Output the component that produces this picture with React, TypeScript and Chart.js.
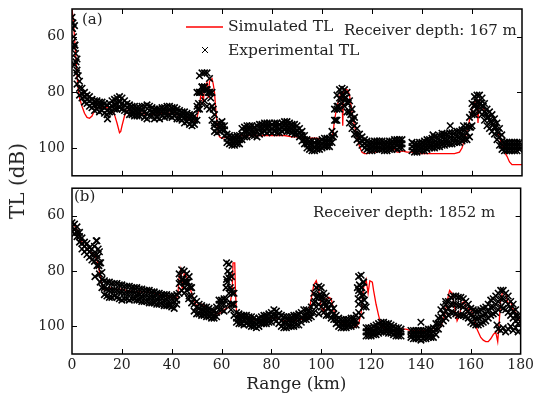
import { useEffect, useRef } from "react";
import { Chart, registerables } from "chart.js";

Chart.register(...registerables);

const FONT = "'DejaVu Serif', serif";

// ---------- axes ----------
const xTickValues = [0, 20, 40, 60, 80, 100, 120, 140, 160, 180];
const yTickValues = [60, 80, 100];

// ---------- sample ranges (km) for experimental TL ----------
const rangeKm = [
  0, 1, 2, 3, 4, 5, 6, 7, 8, 9, 10, 11, 12, 13, 14, 15, 16, 17, 18, 19,
  20, 21, 22, 23, 24, 25, 26, 27, 28, 29, 30, 31, 32, 33, 34, 35, 36, 37, 38, 39,
  40, 41, 42, 43, 44, 45, 46, 47, 48, 49, 50, 51, 52, 53, 54, 55, 56, 57, 58, 59,
  60, 61, 62, 63, 64, 65, 66, 67, 68, 69, 70, 71, 72, 73, 74, 75, 76, 77, 78, 79,
  80, 81, 82, 83, 84, 85, 86, 87, 88, 89, 90, 91, 92, 93, 94, 95, 96, 97, 98, 99,
  100, 101, 102, 103, 104, 105, 106, 107, 108, 109, 110, 111, 112, 113, 114, 115, 116, 117, 118, 119,
  120, 121, 122, 123, 124, 125, 126, 127, 128, 129, 130, 131, 132, 133, 134, 135, 136, 137, 138, 139,
  140, 141, 142, 143, 144, 145, 146, 147, 148, 149, 150, 151, 152, 153, 154, 155, 156, 157, 158, 159,
  160, 161, 162, 163, 164, 165, 166, 167, 168, 169, 170, 171, 172, 173, 174, 175, 176, 177, 178, 179,
  180,
];

// ---------- panel (a): receiver depth 167 m ----------
const expTopUpper = [
  53, 56, 68, 76, 78.5, 80, 81, 81.5, 82.5, 83,
  83, 83.5, 83.5, 84, 84.5, 84, 83, 82.5, 82, 81.5,
  82, 83, 84, 84.5, 85, 85, 85.5, 85.5, 85, 85,
  84.5, 85, 85.5, 86, 86, 86, 85.5, 85.5, 85, 85,
  85.5, 85.5, 86, 86.5, 87, 87, 87.5, 88, 88, 88.5,
  80, 74, 73, 73, 73, 75, 80, 88, 91.5, 91,
  90.5, 92, 95, 95.5, 96, 96, 95.5, 95.5, 93, 92.5,
  92, 92, 92, 92.5, 92, 91.5, 91.5, 91, 91, 91,
  91.5, 91, 91, 91.5, 91, 90.5, 90.5, 91, 91.5, 91.5,
  92, 93, 94, 95.5, 97, 97.5, 97.5, 98, 97.5, 97.5,
  97, 96.5, 96.5, 96.5, 94, 86, 81, 79, 78.5, 79,
  80, 83, 86, 89, 93, 95, 96, 97, 97.5, 98,
  98, 97.5, 97.5, 97.5, 97.5, 98, 98, 97.5, 97.5, 97,
  97, 97, 97, null, null, null, 98, 98.5, 98.5, 98,
  98, 97.5, 97, 97, 96.5, 96, 96, 95.5, 95.5, 95,
  95, 94.5, 94.5, 94.5, 94, 94, 93.5, 93.5, 92, 89,
  84, 81.5, 81, 81, 82, 84, 86, 87, 88, 89.5,
  91, 93, 97.5, 98, 98, 98, 98, 98, 98, 98,
  null,
];

const expTopMiddle = [
  57, 63, 72, 78.5, 80.5, 81.5, 82.5, 83, 84, 84.5,
  84.5, 85, 85, 85.5, 86.5, 85.5, 85, 84.5, 84, 83.5,
  84, 84.5, 85.5, 86, 86.5, 86.5, 87, 87, 86.5, 87,
  87.5, 86.5, 87, 87.5, 87.5, 87.5, 87, 87, 87, 86.5,
  87, 87, 87.5, 88, 88.5, 89, 89, 89.5, 90, 90,
  85, 80, 78, 78, 79, 80, 85, 91, 93, 92.5,
  92, 93.5, 96.5, 97, 97.5, 97.5, 97, 97, 95, 94,
  94, 93.5, 93.5, 94, 94, 93, 93, 92.5, 92.5, 92.5,
  93, 92.5, 92.5, 93, 92.5, 92, 92, 92.5, 93, 93,
  93.5, 94.5, 95.5, 97, 98.5, 99, 99, 99.5, 99, 99,
  98.5, 98, 98, 98, 96, 90, 85, 82, 81, 82,
  83.5, 87, 89.5, 92, 95, 96.5, 97.5, 98.5, 99, 99.5,
  99.5, 99, 99, 99, 99, 99.5, 99.5, 99, 99, 98.5,
  98.5, 98.5, 98.5, null, null, null, 99.5, 100, 100, 99.5,
  99.5, 99, 99, 98.5, 98.5, 98, 98, 97.5, 97.5, 97,
  97, 96.5, 96.5, 96.5, 96, 96, 95.5, 95.5, 94.5, 92.5,
  88, 84.5, 83.5, 84, 85, 87, 89, 90, 91, 92.5,
  94, 96, 99, 99.5, 99.5, 99.5, 99.5, 99.5, 99.5, 99.5,
  null,
];

const expTopLower = [
  62, 70, 77, 81, 82, 83.5, 84, 85, 85.5, 86.5,
  86, 87, 86.5, 87.5, 88, 87, 87, 86, 86, 85.5,
  86, 86.5, 87, 88, 88, 88.5, 88.5, 88.5, 88, 89,
  89.5, 88.5, 88.5, 89.5, 89, 89.5, 88.5, 89, 88.5, 88.5,
  89, 88.5, 89.5, 89.5, 90, 91, 90.5, 91.5, 92, 91.5,
  90, 86, 84, 83, 85, 86, 90, 94, 94.5, 94,
  93.5, 95.5, 98, 98.5, 99, 99, 98.5, 98.5, 97, 96,
  96, 95, 95.5, 95.5, 96, 95, 94.5, 94, 94.5, 94,
  94.5, 94, 94.5, 94.5, 94, 93.5, 94, 94, 94.5, 95,
  95, 96, 97.5, 98.5, 100, 100.5, 101, 101, 100.5, 100.5,
  100, 99.5, 99.5, 99.5, 98, 95, 90, 86, 84, 85,
  87, 91, 93, 95, 97, 98, 99, 100, 100.5, 101,
  101, 100.5, 100.5, 100.5, 100.5, 101, 101, 100.5, 100.5, 100,
  100.5, 100, 100, null, null, null, 101, 101.5, 101.5, 101,
  101, 101, 100.5, 100, 100, 100, 99.5, 99.5, 99, 99,
  98.5, 98.5, 98.5, 98, 98, 98, 97.5, 97, 97, 96,
  92, 88, 86, 87, 88, 90, 92, 93, 94, 95,
  97, 99, 100.5, 101, 101, 101, 101, 101, 101, 100.5,
  null,
];

const expTopExtraRange = [
  0.2, 0.4, 0.6, 0.8, 1.2, 1.4, 1.6, 1.8, 2.5, 14.2,
  50.3, 50.6, 51, 51.5, 52, 52.5, 53, 53.5, 54, 54.5, 55, 55.5, 56, 56.5, 56.8,
  104.5, 105.5, 106, 106.5, 107.5, 108.5, 109.5, 110.5, 111, 111.5, 112.5,
  144.4, 148, 151.3, 156.6,
  159.5, 160.5, 161, 161.5, 162.5, 163.5, 164.5, 165.5, 166.5, 167.5, 168.5, 169.5, 170.5, 171.9,
];
const expTopExtraTL = [
  57, 55, 60, 64, 63, 66, 69, 73, 74, 89.5,
  86, 84, 80, 80, 78, 79, 78, 79, 79, 80, 80, 82, 85, 86, 92,
  96, 90, 86, 85, 82.5, 81, 82, 84, 87, 88, 90,
  95.3, 94.7, 92, 92,
  92.5, 87, 85, 84.5, 83.5, 84, 85, 87.5, 89, 90.5, 91.5, 92.5, 94.5, 95.3,
];

const simTopRange = [
  0, 0.5, 1, 1.5, 2, 2.5, 3, 4, 5, 6,
  7, 8, 9, 10, 12, 14, 15, 16, 17, 18,
  19, 19.5, 20, 21, 22, 23, 25, 28, 30, 33,
  35, 38, 40, 42, 44, 46, 48, 49, 50, 51,
  51.5, 52, 52.5, 53, 54, 54.5, 55, 56, 56.5, 57,
  57.5, 58, 58.5, 59, 60, 62, 65, 68, 70, 75,
  80, 85, 88, 90, 92, 95, 98, 100, 102, 103,
  104, 104.5, 105, 106, 107, 107.5, 108, 108.3, 108.6, 109,
  110, 110.5, 111, 112, 113, 114, 115, 116, 117, 118,
  120, 122, 124, 126, 128, 129, 130, 131, 132, 134,
  136, 140, 145, 150, 153, 155, 156, 157, 158, 159,
  160, 161, 162, 162.4, 162.8, 163.5, 165, 166, 168, 170,
  171, 172, 173, 174, 175, 176, 178, 180,
];
const simTopTL = [
  50, 54, 60, 67, 74, 79, 82, 85, 87.5, 89,
  89.3, 88.5, 86.5, 85.5, 85.5, 85.5, 86, 86.5, 88, 91,
  94.5, 94, 92, 88.5, 86.5, 86.5, 87.5, 87.5, 88, 88,
  87.5, 87.5, 87.5, 88, 88.5, 89.5, 90.5, 90.5, 89, 85,
  81, 79, 84, 78, 76.5, 82, 76, 75, 77, 80,
  86, 91, 94.5, 96, 96.5, 96, 96, 95.5, 95.5, 95.5,
  95.5, 95.5, 96, 96, 96.5, 96.5, 96.5, 97, 97, 97,
  96, 94, 90, 85, 82, 80, 80, 92, 80, 79,
  79, 79.5, 81, 87, 92, 96, 99.5, 101.5, 102, 102,
  101.5, 101.5, 100.5, 100, 99.5, 100.5, 101.5, 101.5, 101, 101.5,
  101.5, 102, 102, 102, 102, 101.5, 100, 97, 94, 90,
  86, 83.5, 83, 91, 83, 84, 86.5, 88, 91, 94,
  96, 99, 101.5, 103, 105, 106, 106, 106,
];

// ---------- panel (b): receiver depth 1852 m ----------
const expBotUpper = [
  62.5, 63, 64, 66, 68, 69.5, 70, 71.5, 72, 71,
  69, 73, 80.5, 83.5, 84, 84, 84.5, 84.5, 84.5, 85,
  85, 85.5, 85.5, 85.5, 86, 86, 86, 86.5, 86.5, 87,
  87, 87, 87.5, 87.5, 88, 88, 88.5, 88.5, 88.5, 89,
  89, 89, 88.5, 81, 79.5, 80, 81, 82, 86, 90,
  91, 92, 92.5, 93, 93, 93.5, 94, 94.5, 93, 90.5,
  90.5, 90, 77, 77.5, 82, 88, 95, 95.5, 96, 96,
  96, 96.5, 96.5, 97, 97.5, 97, 96.5, 96, 96, 95.5,
  95, 94, 94.5, 95.5, 96, 96.5, 96.5, 96.5, 96.5, 96,
  96, 95.5, 95, 94, 94, 94.5, 93, 88, 86, 85.5,
  86, 88, 89, 91, 92, 93.5, 96, 97, 97.5, 97.5,
  97.5, 97.5, 97, 97, 96, 82, 81.5, 84, 100.5, 100.5,
  100.5, 100, 99.5, 99, 98.5, 98.5, 99, 99, 99.5, 100,
  100.5, 100.5, 101, null, null, null, 101.5, 101.5, 101.5, 101.5,
  101.5, 101.5, 101.5, 101, 101, 100.5, 99, 97, 94, 93,
  92, 91, 89.5, 89, 89, 89.5, 89.5, 90, 91, 92,
  93.5, 94, 94.5, 94.5, 94, 93.5, 93, 92, 90.5, 90,
  89, 88, 87, 87, 88, 89, 91, 92, 94, 96,
  null,
];

const expBotMiddle = [
  64, 65, 66, 67.5, 70, 71, 72, 73, 74, 74,
  74, 77, 83, 86, 86.5, 87, 87, 87, 87, 87.5,
  87.5, 88, 88, 88, 88, 88, 88.5, 88.5, 89, 89,
  89, 89.5, 89.5, 89.5, 90, 90, 90, 90.5, 90.5, 91,
  91, 91, 90.5, 84.5, 83, 84, 84, 85.5, 89, 92,
  93, 93.5, 94, 94.5, 95, 95, 95.5, 96, 95, 92,
  92, 92, 83, 82.5, 87, 92, 97, 97, 97.5, 97.5,
  97.5, 98, 98, 98.5, 99, 98.5, 98, 97.5, 97.5, 97,
  96.5, 96, 96, 97, 98, 98.5, 98.5, 98, 98, 98,
  97.5, 97.5, 97, 96, 96, 96, 95, 91.5, 89.5, 89,
  89.5, 91.5, 92.5, 93.5, 94.5, 95.5, 97.5, 98.5, 99, 99,
  99, 99, 98.5, 98, 98, 87, 86, 88.5, 102, 102,
  102, 101.5, 101, 101, 100, 100, 100.5, 101, 101, 101.5,
  102, 102, 102, null, null, null, 103, 103, 103, 103,
  103, 103, 103, 102.5, 102.5, 102, 101, 99, 96.5, 95.5,
  94.5, 93.5, 92, 92, 92, 92.5, 92.5, 93, 94, 94.5,
  96, 96.5, 97, 97, 96.5, 96, 95.5, 94.5, 93, 93,
  92, 91, 90, 90, 91, 92, 93.5, 94.5, 96, 97.5,
  null,
];

const expBotLower = [
  65.5, 66.5, 67.5, 69.5, 72, 73, 74, 75, 76, 76.5,
  78, 81, 86, 88.5, 89, 89.5, 89.5, 89, 89.5, 90,
  90.5, 90, 90, 90.5, 90, 90, 90.5, 90.5, 91, 91,
  91, 91.5, 91.5, 91.5, 92, 92, 92, 92.5, 92.5, 92.5,
  93, 93.5, 92, 88, 87, 88, 87, 89, 91.5, 94.5,
  95.5, 95.5, 96, 96, 96.5, 96.5, 97, 97, 96.5, 94,
  94, 94.5, 90, 88, 92, 96, 98.5, 99, 99, 99.5,
  99, 99.5, 100, 100, 100.5, 100, 99, 99, 99, 98.5,
  98.5, 97.5, 98, 99, 100, 100.5, 100.5, 100, 100, 100,
  99.5, 99.5, 98.5, 97.5, 97.5, 97, 96.5, 95, 93, 92,
  93, 95, 96, 96, 97, 97.5, 99, 100, 100.5, 100.5,
  100.5, 100, 100, 99.5, 99.5, 92, 91, 93, 103.5, 103.5,
  103.5, 103, 103, 102.5, 102, 102, 102, 102.5, 102.5, 103,
  103.5, 103.5, 103.5, null, null, null, 104, 104.5, 104.5, 104.5,
  105, 104.5, 104.5, 104, 104, 104, 103, 101, 99, 98,
  97, 96, 95, 95, 95.5, 96, 96, 96, 96.5, 97,
  98.5, 99, 99.5, 99.5, 99, 98.5, 98, 97, 96, 95.5,
  95, 94, 93, 93.5, 94, 95, 96, 97, 98, 99,
  null,
];

const expBotExtraRange = [
  9.2, 9.7, 10.3, 10.5, 10.8, 11.3, 11.5,
  43.5, 44.5, 45.2, 45.5, 46.5, 46.8, 47.5,
  61.8, 62.3, 62.5, 62.8, 63.3, 63.5, 63.8, 64.3, 64.5,
  97.5, 98.5, 99, 99.5, 100.5, 101.5, 102.5,
  114.5, 114.8, 115, 115.3, 115.5, 116, 116.3, 116.5, 116.8, 117.3, 117.5, 118,
  140, 149.9,
  170.5, 171, 172, 173, 174, 175, 176, 177, 178, 179,
];
const expBotExtraTL = [
  82, 69, 75, 72, 78, 84, 77,
  84, 83, 86, 84, 84, 90, 86,
  86, 84, 80, 92, 81, 86, 94, 88, 92,
  91, 89, 95.5, 88.5, 89.5, 91.5, 93.5,
  86, 90, 95, 85, 88, 96, 86, 89, 84, 90.5, 92.5, 93,
  98.5, 91,
  99.5, 101, 101.5, 100.5, 102, 101, 100, 101.5, 100.5, 102,
];

const simBotRange = [
  0, 1, 2, 3, 4, 5, 6, 7, 8, 9,
  10, 11, 12, 13, 14, 15, 17, 20, 22, 25,
  28, 30, 33, 35, 38, 40, 42, 42.5, 43, 43.6,
  44.3, 45, 46, 47, 48, 49, 50, 51, 52, 55,
  57, 58, 60, 61, 62, 63, 63.8, 64.3, 64.6, 65.3,
  65.6, 66, 67, 70, 72, 75, 78, 80, 82, 85,
  88, 90, 92, 94, 95, 96, 97, 98, 99, 100,
  101, 102, 103, 104, 105, 106, 107, 110, 112, 113,
  114, 115, 116, 117, 118, 118.8, 119.5, 120.5, 121, 122,
  123, 124, 125, 127, 130, 131, 132, 134, 136, 140,
  145, 147, 148, 149.5, 150.5, 151.5, 152.5, 153.5, 154.5, 155.5,
  156.5, 157.5, 158.5, 159.5, 160.5, 161.5, 162, 163, 164, 165,
  166, 167, 168, 169, 170, 170.8, 171.3, 172, 173, 174,
  175, 176, 177, 178, 179, 180,
];
const simBotTL = [
  62.3, 63.5, 65, 67, 69.5, 71, 72, 73, 73.5, 74,
  76, 80, 85, 87, 86.5, 86, 86.5, 86.5, 87, 87.5,
  87.5, 87.5, 88, 88.5, 89, 89.5, 90, 88, 82, 79.5,
  87, 81, 82, 85, 88, 91, 92.5, 92, 92, 93.5,
  95, 95.5, 95, 94, 93.5, 93, 90, 86, 77, 77,
  88, 95, 96.5, 97, 97.5, 98, 97.5, 97, 97, 98,
  98, 98, 97.5, 96, 95, 90, 85, 83.5, 87, 93,
  95, 90, 89.5, 90, 94, 97.5, 98.5, 99, 99.5, 100.5,
  100, 99, 95, 86, 83, 88, 83.5, 84, 87, 92,
  96, 99.5, 100.5, 101.5, 102, 103, 101, 101, 101.5, 101.5,
  101.5, 101, 100, 96, 91, 87, 88, 93, 98, 96,
  91.5, 91, 95, 93, 95, 97, 100, 102, 104, 105,
  105.5, 105.5, 104.5, 103, 102, 105.5, 100, 90, 87, 88,
  92, 91, 94, 95, 97, 99,
];

// ---------- helpers ----------
const toXY = (xs: number[], ys: (number | null)[]) =>
  xs.map((x, i) => ({ x, y: ys[i] }));

const expStyle = {
  showLine: false,
  pointStyle: "crossRot" as const,
  pointRadius: 4.6,
  pointBorderWidth: 1.6,
  pointBorderColor: "#000",
  pointBackgroundColor: "#000",
  borderColor: "#000",
};

const simStyle = {
  showLine: true,
  pointRadius: 0,
  borderColor: "#ff0000",
  borderWidth: 1.3,
  tension: 0,
};

const panelPlugin = {
  id: "panel",
  afterDatasetsDraw(chart: any, _args: any, opts: any) {
    const { ctx, chartArea } = chart;
    const { left, top, right, bottom } = chartArea;
    const xs = chart.scales.x;
    const ys = chart.scales.y;
    ctx.save();
    ctx.strokeStyle = "#000";
    ctx.lineWidth = 1;
    ctx.beginPath();
    for (const v of xTickValues) {
      const px = Math.round(xs.getPixelForValue(v)) + 0.5;
      if (px < left + 2 || px > right - 2) continue;
      ctx.moveTo(px, bottom);
      ctx.lineTo(px, bottom - 5);
      ctx.moveTo(px, top);
      ctx.lineTo(px, top + 5);
    }
    for (const v of yTickValues) {
      const py = Math.round(ys.getPixelForValue(v)) + 0.5;
      ctx.moveTo(left, py);
      ctx.lineTo(left + 5, py);
      ctx.moveTo(right, py);
      ctx.lineTo(right - 5, py);
    }
    ctx.stroke();
    ctx.lineWidth = 1.5;
    ctx.strokeRect(left, top, right - left, bottom - top);

    ctx.fillStyle = "#222";
    ctx.textAlign = "left";
    ctx.textBaseline = "alphabetic";
    ctx.font = `15px ${FONT}`;
    ctx.fillText(opts.label, opts.labelX, opts.labelY);
    ctx.fillText(opts.depth, opts.depthX, opts.depthY);

    if (opts.legend) {
      ctx.strokeStyle = "#ff0000";
      ctx.lineWidth = 1.3;
      ctx.beginPath();
      ctx.moveTo(186, 27);
      ctx.lineTo(223, 27);
      ctx.stroke();
      ctx.strokeStyle = "#000";
      ctx.lineWidth = 1;
      ctx.beginPath();
      ctx.moveTo(202, 47);
      ctx.lineTo(208, 53);
      ctx.moveTo(202, 53);
      ctx.lineTo(208, 47);
      ctx.stroke();
      ctx.font = `15.5px ${FONT}`;
      ctx.fillText("Simulated TL", 228, 31);
      ctx.fillText("Experimental TL", 228, 55);
    }
    ctx.restore();
  },
};

function yScale() {
  return {
    type: "linear" as const,
    min: 50,
    max: 110,
    reverse: true,
    afterBuildTicks: (s: any) => {
      s.ticks = yTickValues.map((v) => ({ value: v }));
    },
    afterFit: (s: any) => {
      s.width = 72;
      s.paddingTop = 0;
      s.paddingBottom = 0;
    },
    grid: { display: false, drawTicks: false },
    border: { display: false },
    ticks: { padding: 7, color: "#222", font: { family: FONT, size: 14 } },
  };
}

export default function App() {
  const topRef = useRef<HTMLCanvasElement | null>(null);
  const botRef = useRef<HTMLCanvasElement | null>(null);

  useEffect(() => {
    if (!topRef.current || !botRef.current) return;

    const top = new Chart(topRef.current, {
      type: "scatter",
      data: {
        datasets: [
          { data: toXY(rangeKm, expTopUpper), ...expStyle },
          { data: toXY(rangeKm, expTopMiddle), ...expStyle },
          { data: toXY(rangeKm, expTopLower), ...expStyle },
          { data: toXY(expTopExtraRange, expTopExtraTL), ...expStyle },
          { data: toXY(simTopRange, simTopTL), ...simStyle },
        ],
      },
      options: {
        animation: false,
        responsive: false,
        events: [],
        layout: { padding: { top: 9, right: 15, bottom: 2, left: 0 } },
        scales: {
          x: { type: "linear", min: 0, max: 180, display: false },
          y: yScale(),
        },
        plugins: {
          legend: { display: false },
          tooltip: { enabled: false },
          panel: {
            label: "(a)",
            labelX: 82,
            labelY: 24,
            depth: "Receiver depth: 167 m",
            depthX: 344,
            depthY: 35,
            legend: true,
          },
        } as any,
      },
      plugins: [panelPlugin],
    });

    const bot = new Chart(botRef.current, {
      type: "scatter",
      data: {
        datasets: [
          { data: toXY(rangeKm, expBotUpper), ...expStyle },
          { data: toXY(rangeKm, expBotMiddle), ...expStyle },
          { data: toXY(rangeKm, expBotLower), ...expStyle },
          { data: toXY(expBotExtraRange, expBotExtraTL), ...expStyle },
          { data: toXY(simBotRange, simBotTL), ...simStyle },
        ],
      },
      options: {
        animation: false,
        responsive: false,
        events: [],
        layout: { padding: { top: 1, right: 15, bottom: 0, left: 0 } },
        scales: {
          x: {
            type: "linear",
            min: 0,
            max: 180,
            afterBuildTicks: (s: any) => {
              s.ticks = xTickValues.map((v) => ({ value: v }));
            },
            afterFit: (s: any) => {
              s.height = 45;
            },
            grid: { display: false, drawTicks: false },
            border: { display: false },
            ticks: {
              padding: 3,
              autoSkip: false,
              maxRotation: 0,
              color: "#222",
              font: { family: FONT, size: 14 },
            },
            title: {
              display: true,
              text: "Range (km)",
              color: "#222",
              font: { family: FONT, size: 17 },
              padding: { top: 0, bottom: 4 },
            },
          },
          y: yScale(),
        },
        plugins: {
          legend: { display: false },
          tooltip: { enabled: false },
          panel: {
            label: "(b)",
            labelX: 74,
            labelY: 18.5,
            depth: "Receiver depth: 1852 m",
            depthX: 313,
            depthY: 34.5,
            legend: false,
          },
        } as any,
      },
      plugins: [panelPlugin],
    });

    return () => {
      top.destroy();
      bot.destroy();
    };
  }, []);

  return (
    <div
      style={{
        position: "fixed",
        left: 0,
        top: 0,
        width: 537,
        height: 399,
        background: "#fff",
        overflow: "hidden",
      }}
    >
      <canvas
        ref={topRef}
        width={537}
        height={182}
        style={{ position: "absolute", left: 0, top: 0 }}
      />
      <canvas
        ref={botRef}
        width={537}
        height={217}
        style={{ position: "absolute", left: 0, top: 182 }}
      />
      <div
        style={{
          position: "absolute",
          left: 17,
          top: 181,
          transform: "translate(-50%, -50%) rotate(-90deg)",
          fontFamily: FONT,
          fontSize: 20,
          lineHeight: 1,
          whiteSpace: "nowrap",
          color: "#222",
        }}
      >
        TL (dB)
      </div>
    </div>
  );
}
